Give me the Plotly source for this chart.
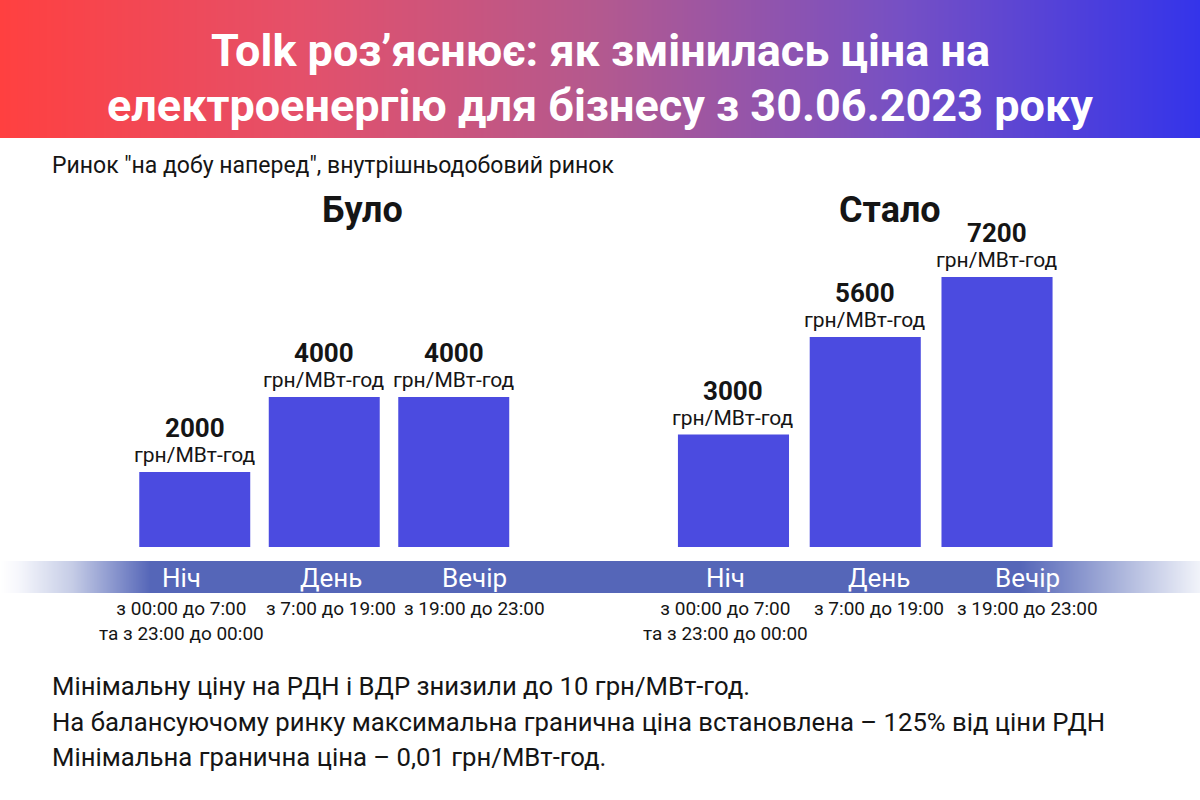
import numpy as np
import plotly.graph_objects as go

# ---------------- data ----------------
title_lines = ["Tolk роз’яснює: як змінилась ціна на",
               "електроенергію для бізнесу з 30.06.2023 року"]
subtitle = "Ринок \"на добу наперед\", внутрішньодобовий ринок"
group_titles = ["Було", "Стало"]
categories = ["Ніч", "День", "Вечір"]
before_values = [2000, 4000, 4000]
after_values = [3000, 5600, 7200]
unit = "грн/МВт-год"
time_ranges = ["з 00:00 до 7:00<br>та з 23:00 до 00:00",
               "з 7:00 до 19:00",
               "з 19:00 до 23:00"]
footer_lines = ["Мінімальну ціну на РДН і ВДР знизили до 10 грн/МВт-год.",
                "На балансуючому ринку максимальна гранична ціна встановлена – 125% від ціни РДН",
                "Мінімальна гранична ціна – 0,01 грн/МВт-год."]

# ---------------- style ----------------
FONT = "Roboto"
BAR = "#4B4BE0"
DARK = "#151515"
BAND = "#5566B8"
label_xshift = {"x": [-13, 7, 21], "x2": [-8, 14, 30]}

fig = go.Figure()

# header gradient
t = np.linspace(0, 1, 241)
fig.add_trace(go.Heatmap(z=[t], x=t, y=[0], xaxis="x3", yaxis="y3",
                         colorscale=[[0, "#FF4040"], [0.25, "#E4506A"], [0.5, "#B3598F"],
                                     [0.75, "#7650C4"], [1, "#3434EA"]],
                         zsmooth="best", showscale=False, hoverinfo="skip"))
# category band gradient
fig.add_trace(go.Heatmap(z=[t], x=t, y=[0], xaxis="x4", yaxis="y4",
                         colorscale=[[0, "#FFFFFF"], [0.015, "#F6F7FC"], [0.06, "#C5CCE6"],
                                     [0.125, BAND], [0.85, BAND], [0.93, "#A8B2DA"],
                                     [1, "#F2F4FA"]],
                         zsmooth="best", showscale=False, hoverinfo="skip"))

fig.add_trace(go.Bar(x=categories, y=before_values, xaxis="x", yaxis="y",
                     marker=dict(color=BAR, line=dict(width=0)), width=0.857,
                     hoverinfo="x+y", showlegend=False))
fig.add_trace(go.Bar(x=categories, y=after_values, xaxis="x2", yaxis="y",
                     marker=dict(color=BAR, line=dict(width=0)), width=0.843,
                     hoverinfo="x+y", showlegend=False))

ann = []
for xr, vals in (("x", before_values), ("x2", after_values)):
    for i, (c, v) in enumerate(zip(categories, vals)):
        ann.append(dict(x=c, y=v, xref=xr, yref="y", text=f"<b>{v}</b>", showarrow=False,
                        yanchor="middle", yshift=44, font=dict(family=FONT, size=26, color=DARK)))
        ann.append(dict(x=c, y=v, xref=xr, yref="y", text=unit, showarrow=False,
                        yanchor="middle", yshift=17, font=dict(family=FONT, size=21, color=DARK)))
        ann.append(dict(x=c, y=0, xref=xr, yref="y", text=c, showarrow=False,
                        yanchor="middle", yshift=-31, xshift=label_xshift[xr][i],
                        font=dict(family=FONT, size=26, color="white")))
        ann.append(dict(x=c, y=0, xref=xr, yref="y", text=time_ranges[i], showarrow=False,
                        yanchor="top", yshift=-48, xshift=label_xshift[xr][i], align="center",
                        font=dict(family=FONT, size=19, color=DARK)))

for i, line in enumerate(title_lines):
    ann.append(dict(x=0.5, y=[0.9375, 0.8675][i], xref="paper", yref="paper", text=f"<b>{line}</b>",
                    showarrow=False, xanchor="center", yanchor="middle",
                    font=dict(family=FONT, size=45, color="white")))
ann.append(dict(x=50 / 1200, y=0.79375, xref="paper", yref="paper", text=subtitle, showarrow=False,
                xanchor="left", yanchor="middle", font=dict(family=FONT, size=23, color=DARK)))
for gx, g in zip([362 / 1200, 890 / 1200], group_titles):
    ann.append(dict(x=gx, y=0.7375, xref="paper", yref="paper", text=f"<b>{g}</b>", showarrow=False,
                    xanchor="center", yanchor="middle", font=dict(family=FONT, size=36, color=DARK)))
for i, line in enumerate(footer_lines):
    ann.append(dict(x=50 / 1200, y=[0.1425, 0.0975, 0.05375][i], xref="paper", yref="paper",
                    text=line, showarrow=False, xanchor="left", yanchor="middle",
                    font=dict(family=FONT, size=25.7, color=DARK)))

hidden = dict(showgrid=False, zeroline=False, showticklabels=False, ticks="", showline=False,
              fixedrange=True)
ydom = [(800 - 547) / 800, (800 - 247) / 800]
fig.update_layout(
    width=1200, height=800, margin=dict(l=0, r=0, t=0, b=0),
    paper_bgcolor="white", plot_bgcolor="rgba(0,0,0,0)", showlegend=False,
    xaxis=dict(domain=[130 / 1200, 518.5 / 1200], anchor="y", type="category",
               range=[-0.5, 2.5], autorange=False, **hidden),
    xaxis2=dict(domain=[667.6 / 1200, 1062.9 / 1200], anchor="y", type="category",
                range=[-0.5, 2.5], autorange=False, **hidden),
    yaxis=dict(domain=ydom, range=[0, 8000], autorange=False, **hidden),
    xaxis3=dict(domain=[0, 1], range=[0, 1], anchor="y3", **hidden),
    yaxis3=dict(domain=[(800 - 138) / 800, 1], range=[-0.5, 0.5], **hidden),
    xaxis4=dict(domain=[0, 1], range=[0, 1], anchor="y4", **hidden),
    yaxis4=dict(domain=[(800 - 593) / 800, (800 - 561) / 800], range=[-0.5, 0.5], **hidden),
    annotations=ann,
)
fig.write_html("out.html", config={"displayModeBar": False},
               post_script="document.body.style.margin='0';document.body.style.overflow='hidden';")
